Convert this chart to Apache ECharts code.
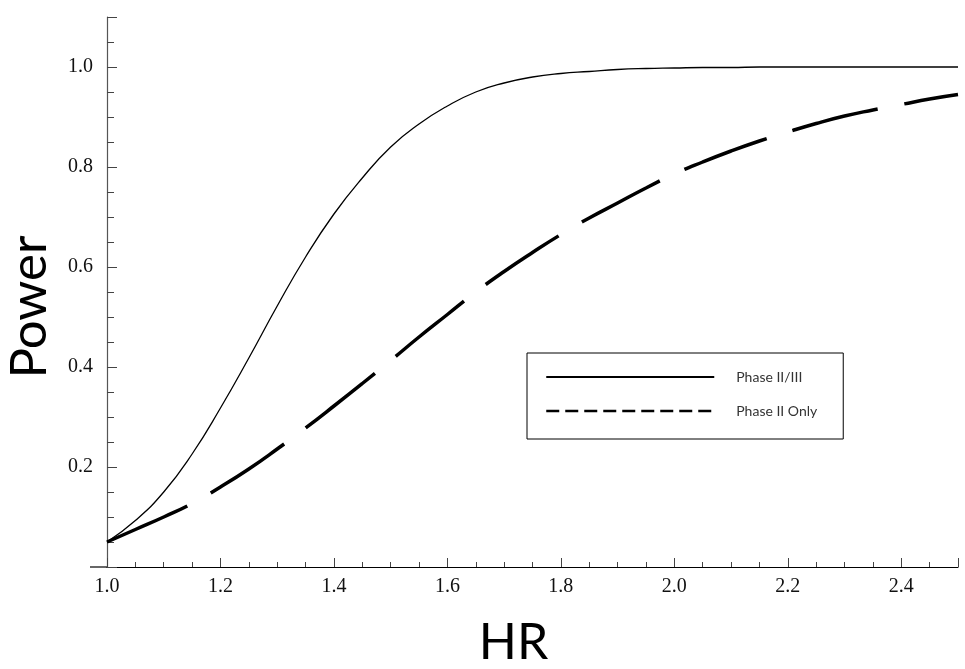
<!DOCTYPE html>
<html>
<head>
<meta charset="utf-8">
<script src="https://cdn.jsdelivr.net/npm/echarts@6/dist/echarts.min.js"></script>
<style>
  html, body { margin: 0; padding: 0; background: #fff; }
  #chart { width: 965px; height: 669px; }
</style>
</head>
<body>
<div id="chart"></div>
<script>
  // hazard ratio grid
  const hr = [1.00, 1.05, 1.10, 1.15, 1.20, 1.25, 1.30, 1.35, 1.40, 1.45,
              1.50, 1.55, 1.60, 1.65, 1.70, 1.75, 1.80, 1.85, 1.90, 1.95,
              2.00, 2.05, 2.10, 2.15, 2.20, 2.25, 2.30, 2.35, 2.40, 2.45, 2.50]
  // power
  const powerPhase23 = [0.050, 0.093, 0.150, 0.226, 0.318, 0.418, 0.522, 0.620, 0.706, 0.778,
                        0.840, 0.886, 0.922, 0.950, 0.968, 0.980, 0.987, 0.991, 0.995, 0.997,
                        0.998, 0.999, 0.999, 1.000, 1.000, 1.000, 1.000, 1.000, 1.000, 1.000, 1.000]
  const powerPhase2Only = [0.050, 0.075, 0.100, 0.127, 0.160, 0.196, 0.236, 0.278, 0.322, 0.367,
                           0.413, 0.460, 0.505, 0.550, 0.591, 0.629, 0.665, 0.698, 0.728, 0.758,
                           0.786, 0.810, 0.832, 0.852, 0.870, 0.887, 0.902, 0.914, 0.925, 0.936, 0.945]
  const seriesNames = ['Phase II/III', 'Phase II Only']

  const chart = echarts.init(document.getElementById('chart'))
  const axisColor = '#444'
  const option = {
    animation: false,
    grid: { left: 107, right: 7, top: 17, bottom: 102, containLabel: false, outerBoundsMode: 'none' },
    legend: {
      orient: 'vertical',
      left: 527,
      top: 353,
      padding: [17, 26, 21, 18],
      borderColor: '#000',
      borderWidth: 1,
      itemWidth: 168,
      itemHeight: 14,
      itemGap: 20,
      itemStyle: { color: 'transparent', borderWidth: 0 },
      textStyle: { fontFamily: 'Lato', fontSize: 14, color: '#333', padding: [0, 0, 0, 17] },
      data: [
        { name: seriesNames[0], lineStyle: { width: 2, type: 'solid', color: '#000' } },
        { name: seriesNames[1], lineStyle: { width: 2.5, type: [13, 6], color: '#000' } }
      ]
    },
    xAxis: {
      type: 'value',
      min: 1.0,
      max: 2.5,
      interval: 0.2,
      name: 'HR',
      nameLocation: 'middle',
      nameGap: 51,
      nameTextStyle: { fontFamily: 'Lato', fontSize: 50, color: '#000', padding: [0, 38, 0, 0] },
      axisLine: { lineStyle: { color: '#000', width: 1.2 } },
      axisTick: { inside: true, length: 9, lineStyle: { color: axisColor } },
      minorTick: { show: true, splitNumber: 4, length: 5, lineStyle: { color: axisColor } },
      axisLabel: {
        margin: 10, fontFamily: 'Liberation Serif', fontSize: 20, color: '#111',
        showMaxLabel: false,
        formatter: v => v.toFixed(1)
      },
      splitLine: { show: false }
    },
    yAxis: {
      type: 'value',
      min: 0,
      max: 1.1,
      interval: 0.2,
      name: 'Power',
      nameLocation: 'middle',
      nameGap: 52,
      nameRotate: 90,
      nameTextStyle: { fontFamily: 'Lato', fontSize: 51, color: '#000', padding: [0, 30, 0, 0] },
      axisLine: { lineStyle: { color: '#555', width: 1.2 } },
      axisTick: { inside: true, length: 10, lineStyle: { color: axisColor } },
      minorTick: { show: true, splitNumber: 4, length: 7, lineStyle: { color: axisColor } },
      axisLabel: {
        margin: 14, fontFamily: 'Liberation Serif', fontSize: 20, color: '#111',
        showMinLabel: false, showMaxLabel: false,
        formatter: v => v.toFixed(1)
      },
      splitLine: { show: false }
    },
    series: [
      {
        name: seriesNames[0],
        type: 'line',
        smooth: true,
        showSymbol: false,
        symbol: 'none',
        color: '#000',
        lineStyle: { color: '#000', width: 1.3 },
        data: hr.map((x, i) => [x, powerPhase23[i]])
      },
      {
        name: seriesNames[1],
        type: 'line',
        smooth: true,
        showSymbol: false,
        symbol: 'none',
        color: '#000',
        lineStyle: { color: '#000', width: 3.5, type: [88, 27] },
        data: hr.map((x, i) => [x, powerPhase2Only[i]])
      }
    ]
  }
  chart.setOption(option)

  // the x axis line runs a little past the y axis on the left
  const origin = chart.convertToPixel({ gridIndex: 0 }, [1.0, 0])
  chart.setOption({
    graphic: [{
      type: 'line',
      shape: { x1: origin[0] - 17, y1: origin[1], x2: origin[0], y2: origin[1] },
      style: { stroke: '#000', lineWidth: 1.2 }
    }]
  })
</script>
</body>
</html>
